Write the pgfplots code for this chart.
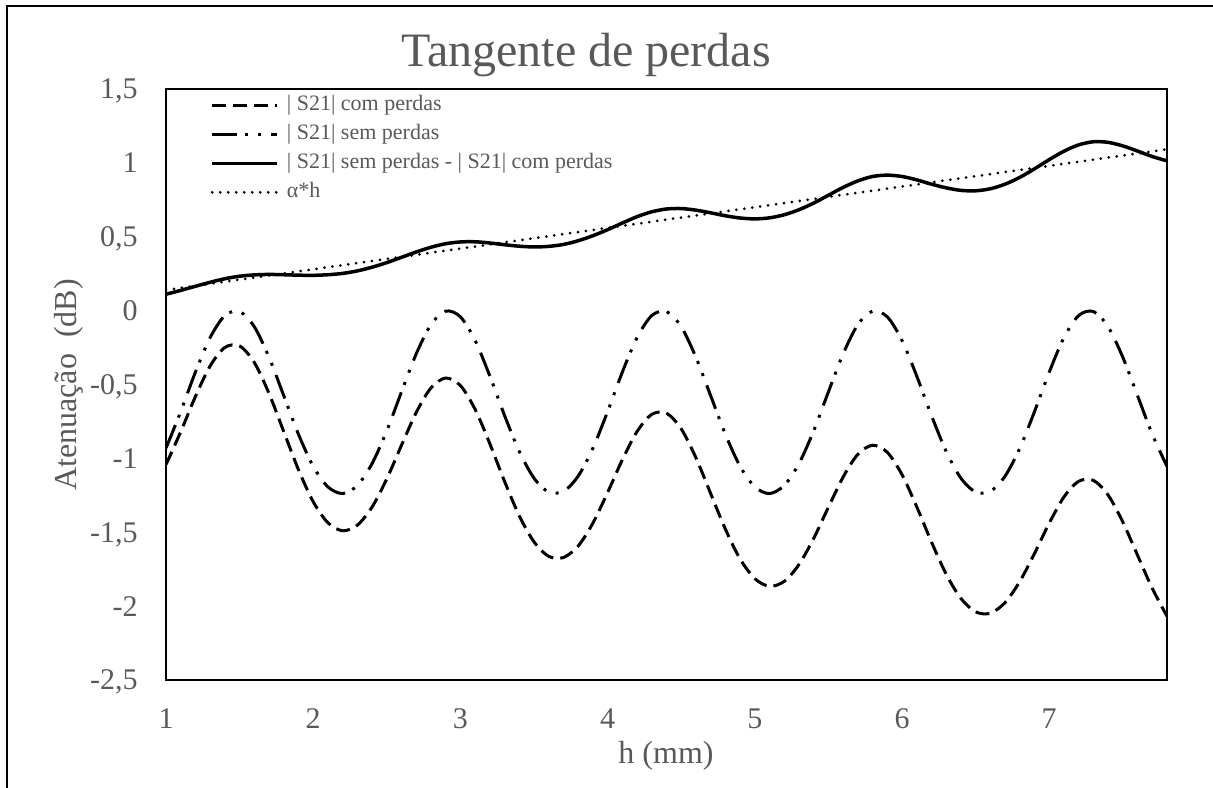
\documentclass[border=0pt]{standalone}
\usepackage{fontspec}
\setmainfont{Liberation Serif}
\usepackage{pgfplots}
\usepackage{pgfplotstable}
\pgfplotsset{compat=1.18}
\definecolor{txtgray}{HTML}{595959}

\pgfplotstableread{
h com sem dif
1.0 -1.042 -0.931 0.111
1.1 -0.820 -0.683 0.137
1.2 -0.581 -0.416 0.165
1.3 -0.374 -0.182 0.192
1.4 -0.249 -0.033 0.216
1.5 -0.239 -0.006 0.233
1.6 -0.351 -0.109 0.242
1.7 -0.561 -0.316 0.245
1.8 -0.819 -0.576 0.243
1.9 -1.077 -0.837 0.240
2.0 -1.293 -1.054 0.239
2.1 -1.436 -1.193 0.243
2.2 -1.490 -1.238 0.252
2.3 -1.452 -1.183 0.269
2.4 -1.329 -1.035 0.294
2.5 -1.138 -0.813 0.325
2.6 -0.910 -0.549 0.361
2.7 -0.689 -0.292 0.397
2.8 -0.523 -0.094 0.429
2.9 -0.456 -0.003 0.453
3.0 -0.507 -0.042 0.465
3.1 -0.668 -0.202 0.466
3.2 -0.901 -0.443 0.458
3.3 -1.156 -0.710 0.446
3.4 -1.389 -0.953 0.436
3.5 -1.565 -1.134 0.431
3.6 -1.663 -1.228 0.435
3.7 -1.671 -1.223 0.448
3.8 -1.593 -1.120 0.473
3.9 -1.438 -0.931 0.507
4.0 -1.231 -0.683 0.548
4.1 -1.009 -0.416 0.593
4.2 -0.818 -0.182 0.636
4.3 -0.702 -0.033 0.669
4.4 -0.694 -0.006 0.688
4.5 -0.800 -0.109 0.691
4.6 -0.996 -0.316 0.680
4.7 -1.238 -0.576 0.662
4.8 -1.479 -0.837 0.642
4.9 -1.681 -1.054 0.627
5.0 -1.814 -1.193 0.621
5.1 -1.866 -1.238 0.628
5.2 -1.832 -1.183 0.649
5.3 -1.718 -1.035 0.683
5.4 -1.541 -0.813 0.728
5.5 -1.330 -0.549 0.781
5.6 -1.126 -0.292 0.834
5.7 -0.972 -0.094 0.878
5.8 -0.911 -0.003 0.908
5.9 -0.959 -0.042 0.917
6.0 -1.110 -0.202 0.908
6.1 -1.328 -0.443 0.885
6.2 -1.566 -0.710 0.856
6.3 -1.784 -0.953 0.831
6.4 -1.948 -1.134 0.814
6.5 -2.039 -1.228 0.811
6.6 -2.048 -1.223 0.825
6.7 -1.976 -1.120 0.856
6.8 -1.833 -0.931 0.902
6.9 -1.643 -0.683 0.960
7.0 -1.438 -0.416 1.022
7.1 -1.261 -0.182 1.079
7.2 -1.155 -0.033 1.122
7.3 -1.149 -0.006 1.143
7.4 -1.248 -0.109 1.139
7.5 -1.431 -0.316 1.115
7.6 -1.656 -0.576 1.080
7.7 -1.880 -0.837 1.043
7.8 -2.068 -1.054 1.014
}\data

\begin{document}
\begin{tikzpicture}
\useasboundingbox (0pt,0pt) rectangle (606.5pt,-393.5pt);
\draw[line width=1pt] (3.5pt,-400pt) -- (3.5pt,-3pt) -- (615pt,-3pt);
\begin{axis}[
  scale only axis, width=500.5pt, height=295.5pt,
  at={(83pt,-340pt)}, anchor=south west,
  xmin=1, xmax=7.8, ymin=-2.5, ymax=1.5,
  xtick={1,2,3,4,5,6,7},
  ytick={-2.5,-2,-1.5,-1,-0.5,0,0.5,1,1.5},
  yticklabels={{-2,5},{-2},{-1,5},{-1},{-0,5},{0},{0,5},{1},{1,5}},
  major tick length=0pt,
  axis line style={line width=1pt},
  /pgf/number format/assume math mode=true,
  xticklabel style={anchor=base, yshift=-24pt, inner sep=0pt, font=\fontsize{15}{18}\selectfont, text=txtgray},
  yticklabel style={anchor=east, xshift=-14pt, inner sep=0pt, text depth=0pt, font=\fontsize{15}{18}\selectfont, text=txtgray},
  legend style={at={(rel axis cs:0.044,1)}, anchor=north west, yshift=-1.75pt,
    draw=none, fill=none, inner sep=0pt, row sep=2pt, column sep=3pt,
    nodes={inner sep=1pt, text=txtgray, font=\fontsize{11}{13}\selectfont, text height=8pt, text depth=2.5pt}},
  legend cell align=left,
  legend image code/.code={\draw[#1] (0pt,0pt) -- (32.5pt,0pt);},
]
\addplot[black, line width=1.5pt, dash pattern=on 7pt off 3.5pt, smooth] table[x=h,y=com] {\data};
\addlegendentry{| S21| com perdas}
\addplot[black, line width=1.5pt, dash pattern=on 12.5pt off 4pt on 1.5pt off 5pt on 1.5pt off 5pt, smooth] table[x=h,y=sem] {\data};
\addlegendentry{| S21| sem perdas}
\addplot[black, line width=1.75pt, smooth] table[x=h,y=dif] {\data};
\addlegendentry{| S21| sem perdas - | S21| com perdas}
\addplot[black, line width=1.5pt, line cap=round, dash pattern=on 0pt off 4pt] coordinates {(1,0.14) (7.8,1.092)};
\addlegendentry{α*h}
\end{axis}
\node[anchor=base, text=txtgray, font=\fontsize{24}{28}\selectfont] at (293pt,-33pt) {Tangente de perdas};
\node[anchor=base, text=txtgray, font=\fontsize{16}{19}\selectfont] at (333pt,-381.5pt) {h (mm)};
\node[anchor=base, rotate=90, text=txtgray, font=\fontsize{16}{19}\selectfont] at (38pt,-192.5pt) {Atenuação~~(dB)};
\end{tikzpicture}
\end{document}
